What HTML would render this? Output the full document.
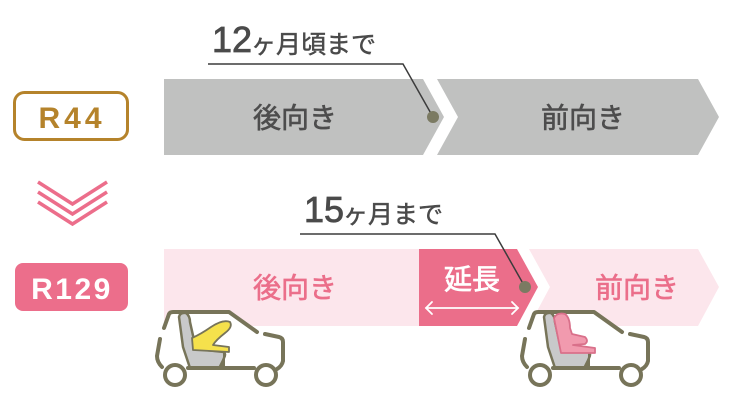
<!DOCTYPE html>
<html>
<head>
<meta charset="utf-8">
<style>
html,body{margin:0;padding:0;background:#fff;}
svg{display:block;}
text{font-family:"Liberation Sans","Noto Sans CJK JP",sans-serif;}
</style>
</head>
<body>
<svg width="740" height="410" viewBox="0 0 740 410" xmlns="http://www.w3.org/2000/svg">
  <!-- R44 badge -->
  <rect x="14.5" y="92.5" width="113" height="47" rx="10" ry="10" fill="#fff" stroke="#b5832b" stroke-width="3"/>
  <text x="72" y="128" text-anchor="middle" font-size="30" font-weight="bold" fill="#b5832b" letter-spacing="4">R44</text>

  <!-- chevrons -->
  <g fill="none" stroke="#ec6e8b" stroke-width="3.5">
    <polyline points="38,182 72.5,204 107,182"/>
    <polyline points="38,192 72.5,214 107,192"/>
    <polyline points="38,202 72.5,224 107,202"/>
  </g>

  <!-- R129 badge -->
  <rect x="15" y="263" width="113" height="48" rx="8" ry="8" fill="#ec6e8b"/>
  <text x="72" y="299" text-anchor="middle" font-size="30" font-weight="bold" fill="#fff" letter-spacing="2.5">R129</text>

  <!-- top bar -->
  <polygon points="164,79 423,79 444,117 423,155 164,155" fill="#c0c1c0"/>
  <polygon points="437,79 698,79 719,117 698,155 437,155 458,117" fill="#c0c1c0"/>
  <text x="295" y="127.5" text-anchor="middle" font-size="28" fill="#4d4d4d" stroke="#4d4d4d" stroke-width="0.6">後向き</text>
  <text x="583" y="127.5" text-anchor="middle" font-size="28" fill="#4d4d4d" stroke="#4d4d4d" stroke-width="0.6">前向き</text>

  <!-- top leader -->
  <text x="212" y="52" font-size="36" fill="#4a4a4a" stroke="#4a4a4a" stroke-width="0.8">12</text>
  <text x="251" y="53" font-size="25" fill="#4a4a4a" stroke="#4a4a4a" stroke-width="0.5">ヶ月頃まで</text>
  <polyline points="208,64 403,64 433,117" fill="none" stroke="#3c3c3c" stroke-width="1.5"/>
  <circle cx="433" cy="117" r="6" fill="#7b7a62"/>

  <!-- bottom bar -->
  <rect x="164" y="249" width="260" height="77" fill="#fce6ec"/>
  <polygon points="529,249 698,249 719,287 698,326 529,326 550,287" fill="#fce6ec"/>
  <polygon points="419,249 517,249 538,287 517,326 419,326" fill="#eb6e8a"/>
  <text x="295" y="297.5" text-anchor="middle" font-size="28" fill="#eb6e8a" stroke="#eb6e8a" stroke-width="0.6">後向き</text>
  <text x="637" y="297.5" text-anchor="middle" font-size="28" fill="#eb6e8a" stroke="#eb6e8a" stroke-width="0.6">前向き</text>
  <text x="472" y="289" text-anchor="middle" font-size="28" fill="#fff" stroke="#fff" stroke-width="0.7">延長</text>
  <g fill="none" stroke="#fff" stroke-width="1.8" stroke-linecap="round">
    <line x1="426" y1="308" x2="518" y2="308"/>
    <polyline points="432,302 426,308 432,314"/>
    <polyline points="512,302 518,308 512,314"/>
  </g>

  <!-- bottom leader -->
  <text x="304" y="222" font-size="36" fill="#4a4a4a" stroke="#4a4a4a" stroke-width="0.8">15</text>
  <text x="343" y="223" font-size="25" fill="#4a4a4a" stroke="#4a4a4a" stroke-width="0.5">ヶ月まで</text>
  <polyline points="300,234 495,234 525,287" fill="none" stroke="#3c3c3c" stroke-width="1.5"/>
  <circle cx="525" cy="287" r="6" fill="#7b7a62"/>

  <!-- car template -->
  <defs>
    <g id="car">
      <path d="M163,330 L170,312 L230,312 L260,333 L282,337 L283,365 L270,372 L165,372 L157,360 Z" fill="#fff"/>
      <!-- gray seat -->
      <path d="M179,317 Q180,312 186,313 Q190,316 190,322 L196,349 L224,352 Q226,354 224,358 L221,368 L190,368 L183,347 Z" fill="#c8c9ca" stroke="#777459" stroke-width="2.5" stroke-linejoin="round"/>
      <g fill="none" stroke="#777459" stroke-width="4" stroke-linecap="round" stroke-linejoin="round">
        <path d="M164,328 L169,314 Q170,312 173,312 L229,312 L257,332"/>
        <path d="M265,334 L279,337 Q283,338 283,342 L283,361 Q282,366 277,369"/>
        <path d="M160,339 L157,356 Q157,362 162,367"/>
        <line x1="188" y1="368" x2="254" y2="368"/>
        <circle cx="175" cy="375" r="10" fill="#fff"/>
        <circle cx="266" cy="375" r="10" fill="#fff"/>
      </g>
      <g fill="none" stroke="#777459" stroke-width="2" stroke-linecap="round">
        <line x1="224" y1="352" x2="224" y2="368"/>
        <line x1="224" y1="358" x2="219" y2="368"/>
      </g>
    </g>
  </defs>

  <!-- left car -->
  <use href="#car"/>
  <path d="M193,350 L192,338 Q201,334 211,327 Q223,319 230,322 Q233,327 225,333 Q216,340 213,345 L229,347 L229,352 Z" fill="#f5e14c" stroke="#777459" stroke-width="1.8" stroke-linejoin="round"/>

  <!-- right car -->
  <g transform="translate(365,0)">
    <use href="#car"/>
    <path d="M189,318 Q192,312 200,314 Q205,318 205,328 L207,334 L220,337 Q224,341 220,344 L208,345 L230,348 L230,353 L196,353 Z" fill="#f19aae" stroke="#d9708a" stroke-width="1.8" stroke-linejoin="round"/>
  </g>
</svg>
</body>
</html>
